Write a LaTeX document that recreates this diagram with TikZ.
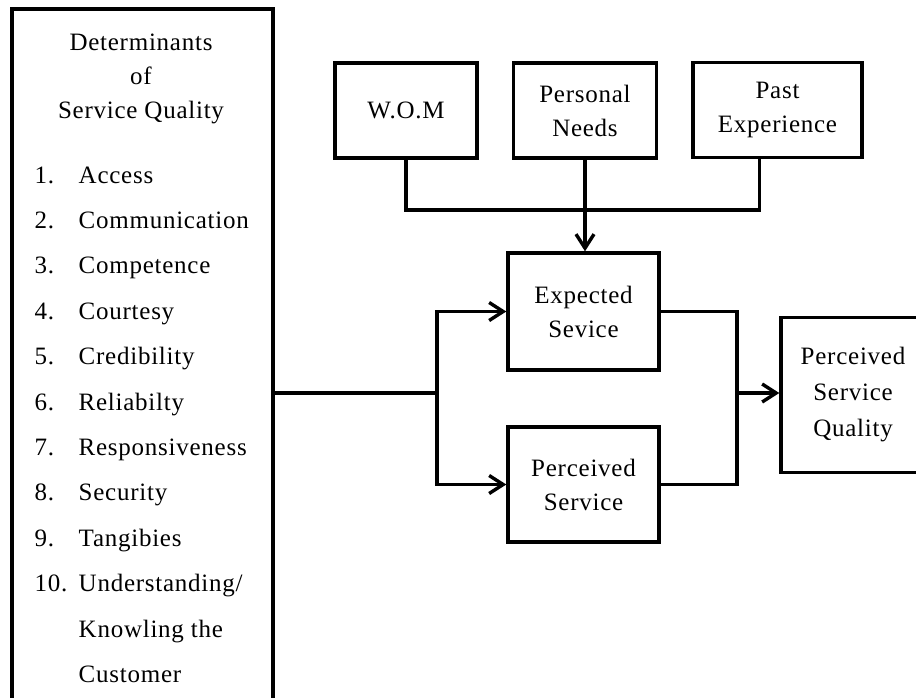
\documentclass[tikz,border=0pt]{standalone}
\usepackage{fontspec}
\setmainfont{Liberation Serif}[LetterSpace=3]
\usepackage{tikz}
\usetikzlibrary{arrows.meta}
\tikzset{>={Straight Barb[length=14pt,width=18pt]}}
\tikzset{blk/.style={draw, line width=3.4pt, inner sep=0pt, align=center}}

\begin{document}
\begin{tikzpicture}[x=1pt, y=-1pt, line width=3.4pt, font=\fontsize{25}{34}\selectfont]
		\useasboundingbox (0,0) rectangle (916,698);
		%riquadro determinanti (aperto in basso)
		\node[blk, minimum width=261pt, minimum height=768pt] (det) at (142.5,393) {};
		\node[align=center] (hdr) at (141,79) {Determinants\\of\\Service Quality};
		%elenco numerato
		\foreach \i in {1,...,10}
			\node[anchor=base west, inner sep=0pt] (num\i) at (33,{183+45.4*(\i-1)}) {\i.};
		\foreach \txt [count=\i] in {Access,Communication,Competence,Courtesy,Credibility,Reliabilty,Responsiveness,Security,Tangibies,Understanding/,Knowling the,Customer}
			\node[anchor=base west, inner sep=0pt] (itm\i) at (77,{183+45.4*(\i-1)}) {\txt};
		%riquadri in alto
		\node[blk, minimum width=142pt, minimum height=95pt] (wom) at (406,110.5) {W.O.M};
		\node[blk, minimum width=143pt, minimum height=95pt] (needs) at (585,110.5) {Personal\\Needs};
		\node[blk, minimum width=169pt, minimum height=95pt] (past) at (777.5,110) {Past\\Experience};
		%servizio atteso e percepito
		\node[blk, minimum width=151pt, minimum height=117pt] (expect) at (583.5,311.5) {Expected\\Sevice};
		\node[blk, minimum width=151pt, minimum height=115pt] (perc) at (583.5,484.5) {Perceived\\Service};
		\node[blk, minimum width=144pt, minimum height=155pt, font=\fontsize{25}{36}\selectfont] (psq) at (853,395) {Perceived\\Service\\Quality};
		%punti di giunzione
		\coordinate (jt) at (585,210);
		\coordinate (jl) at (437,393);
		\coordinate (jr) at (737,393);
		%frecce
		\draw (wom.south) |- (jt) -| ([xshift=-18pt]past.south);
		\draw[->] (needs.south) -- (needs.south |- expect.north);
		\draw (det.east |- jl) -- (jl);
		\draw[->] (jl) |- (expect.west);
		\draw[->] (jl) |- (perc.west);
		\draw (expect.east) -| (jr) |- (perc.east);
		\draw[->] (jr) -- (jr -| psq.west);
	\end{tikzpicture}
\end{document}
